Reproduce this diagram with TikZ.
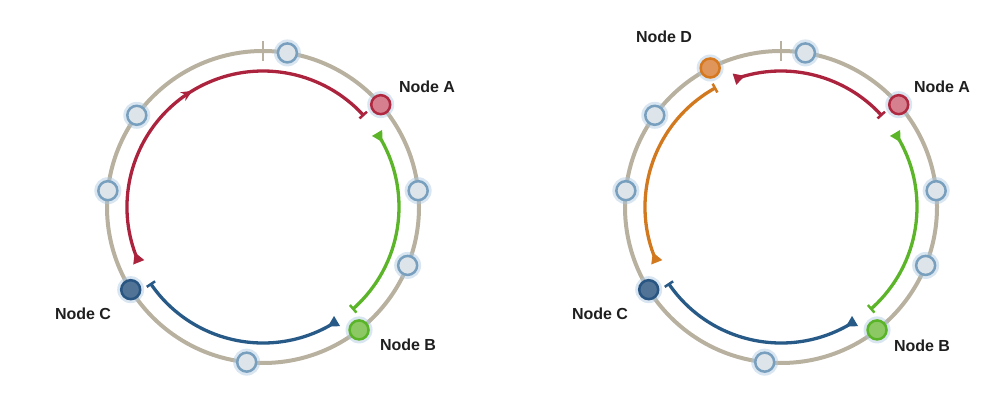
\documentclass[tikz,border=0pt]{standalone}
\usepackage{fontspec}
\setmainfont{Liberation Sans}
\usetikzlibrary{arrows.meta,bending,decorations.markings}
\definecolor{ringc}{RGB}{184,177,160}
\definecolor{smfill}{RGB}{222,229,234}
\definecolor{smdraw}{RGB}{120,160,190}
\definecolor{glowc}{RGB}{170,200,225}
\definecolor{Afill}{RGB}{214,128,143}
\definecolor{Adraw}{RGB}{176,40,64}
\definecolor{Bfill}{RGB}{140,200,100}
\definecolor{Bdraw}{RGB}{90,180,40}
\definecolor{Cfill}{RGB}{80,115,150}
\definecolor{Cdraw}{RGB}{40,85,130}
\definecolor{Dfill}{RGB}{224,150,90}
\definecolor{Ddraw}{RGB}{214,120,30}
\definecolor{redarc}{RGB}{172,35,62}
\definecolor{greenarc}{RGB}{92,180,40}
\definecolor{bluearc}{RGB}{40,90,135}
\definecolor{orangearc}{RGB}{210,120,30}
\tikzset{
  ringline/.style={draw=ringc, line width=4pt},
  tickline/.style={draw=ringc, line width=1.5pt},
  glow/.style={circle, minimum size=27pt, inner sep=0pt, fill=glowc, fill opacity=0.45},
  ringnode/.style={circle, minimum size=19pt, inner sep=0pt, line width=2.5pt},
  smallnode/.style={ringnode, fill=smfill, draw=smdraw},
  nodeA/.style={ringnode, fill=Afill, draw=Adraw},
  nodeB/.style={ringnode, fill=Bfill, draw=Bdraw},
  nodeC/.style={ringnode, fill=Cfill, draw=Cdraw},
  nodeD/.style={ringnode, fill=Dfill, draw=Ddraw},
  arcline/.style={line width=3.3pt, {Triangle[reversed,length=11pt,width=11pt]}-{Bar[width=10pt,line width=2.5pt]}},
  midarrow/.style={postaction={decorate}, decoration={markings, mark=at position #1 with {\arrow{Stealth[length=11pt,width=10pt]}}}},
  lbl/.style={font=\fontsize{16}{18}\selectfont\bfseries, text=black!88, inner sep=0pt}
}
\begin{document}
\begin{tikzpicture}[x=1pt,y=1pt]
\useasboundingbox (0,0) rectangle (1004,407);
% ---------------- left ring ----------------
\coordinate (LC) at (263,200);
\draw[ringline] (LC) circle[radius=156];
\coordinate (Lt1) at ([shift={(90:146)}]LC);
\coordinate (Lt2) at ([shift={(90:166)}]LC);
\draw[tickline] (Lt1) -- (Lt2);
\foreach \a/\n in {81/L1,6/L2,-22/L3,-96/L4,174/L5,144/L6}{
  \node[glow] at ([shift={(\a:156)}]LC) {};
  \node[smallnode] (\n) at ([shift={(\a:156)}]LC) {};
}
\node[glow] at ([shift={(41:156)}]LC) {};
\node[nodeA] (LA) at ([shift={(41:156)}]LC) {};
\node[glow] at ([shift={(-52:156)}]LC) {};
\node[nodeB] (LB) at ([shift={(-52:156)}]LC) {};
\node[glow] at ([shift={(-148:156)}]LC) {};
\node[nodeC] (LCn) at ([shift={(-148:156)}]LC) {};
\coordinate (Lrs) at ([shift={(204:136)}]LC);
\coordinate (Lgs) at ([shift={(33:136)}]LC);
\coordinate (Lbs) at ([shift={(-57:136)}]LC);
\draw[arcline, redarc, midarrow=0.51] (Lrs) arc[start angle=204, end angle=42, radius=136];
\draw[arcline, greenarc] (Lgs) arc[start angle=33, end angle=-49, radius=136];
\draw[arcline, bluearc] (Lbs) arc[start angle=-57, end angle=-146, radius=136];
\node[lbl] (LAl) at (427,320) {Node A};
\node[lbl] (LBl) at (408,62) {Node B};
\node[lbl] (LCl) at (83,93) {Node C};
% ---------------- right ring ----------------
\coordinate (RC) at (781,200);
\draw[ringline] (RC) circle[radius=156];
\coordinate (Rt1) at ([shift={(90:146)}]RC);
\coordinate (Rt2) at ([shift={(90:166)}]RC);
\draw[tickline] (Rt1) -- (Rt2);
\foreach \a/\n in {81/R1,6/R2,-22/R3,-96/R4,174/R5,144/R6}{
  \node[glow] at ([shift={(\a:156)}]RC) {};
  \node[smallnode] (\n) at ([shift={(\a:156)}]RC) {};
}
\node[glow] at ([shift={(41:156)}]RC) {};
\node[nodeA] (RA) at ([shift={(41:156)}]RC) {};
\node[glow] at ([shift={(-52:156)}]RC) {};
\node[nodeB] (RB) at ([shift={(-52:156)}]RC) {};
\node[glow] at ([shift={(-148:156)}]RC) {};
\node[nodeC] (RCn) at ([shift={(-148:156)}]RC) {};
\node[glow] at ([shift={(117:156)}]RC) {};
\node[nodeD] (RD) at ([shift={(117:156)}]RC) {};
\coordinate (Rrs) at ([shift={(110:136)}]RC);
\coordinate (Ros) at ([shift={(204:136)}]RC);
\coordinate (Rgs) at ([shift={(33:136)}]RC);
\coordinate (Rbs) at ([shift={(-57:136)}]RC);
\draw[arcline, redarc] (Rrs) arc[start angle=110, end angle=42, radius=136];
\draw[arcline, orangearc] (Ros) arc[start angle=204, end angle=118.5, radius=136];
\draw[arcline, greenarc] (Rgs) arc[start angle=33, end angle=-49, radius=136];
\draw[arcline, bluearc] (Rbs) arc[start angle=-57, end angle=-146, radius=136];
\node[lbl] (RDl) at (664,370) {Node D};
\node[lbl] (RAl) at (942,320) {Node A};
\node[lbl] (RBl) at (922,61) {Node B};
\node[lbl] (RCl) at (600,93) {Node C};
\end{tikzpicture}
\end{document}
